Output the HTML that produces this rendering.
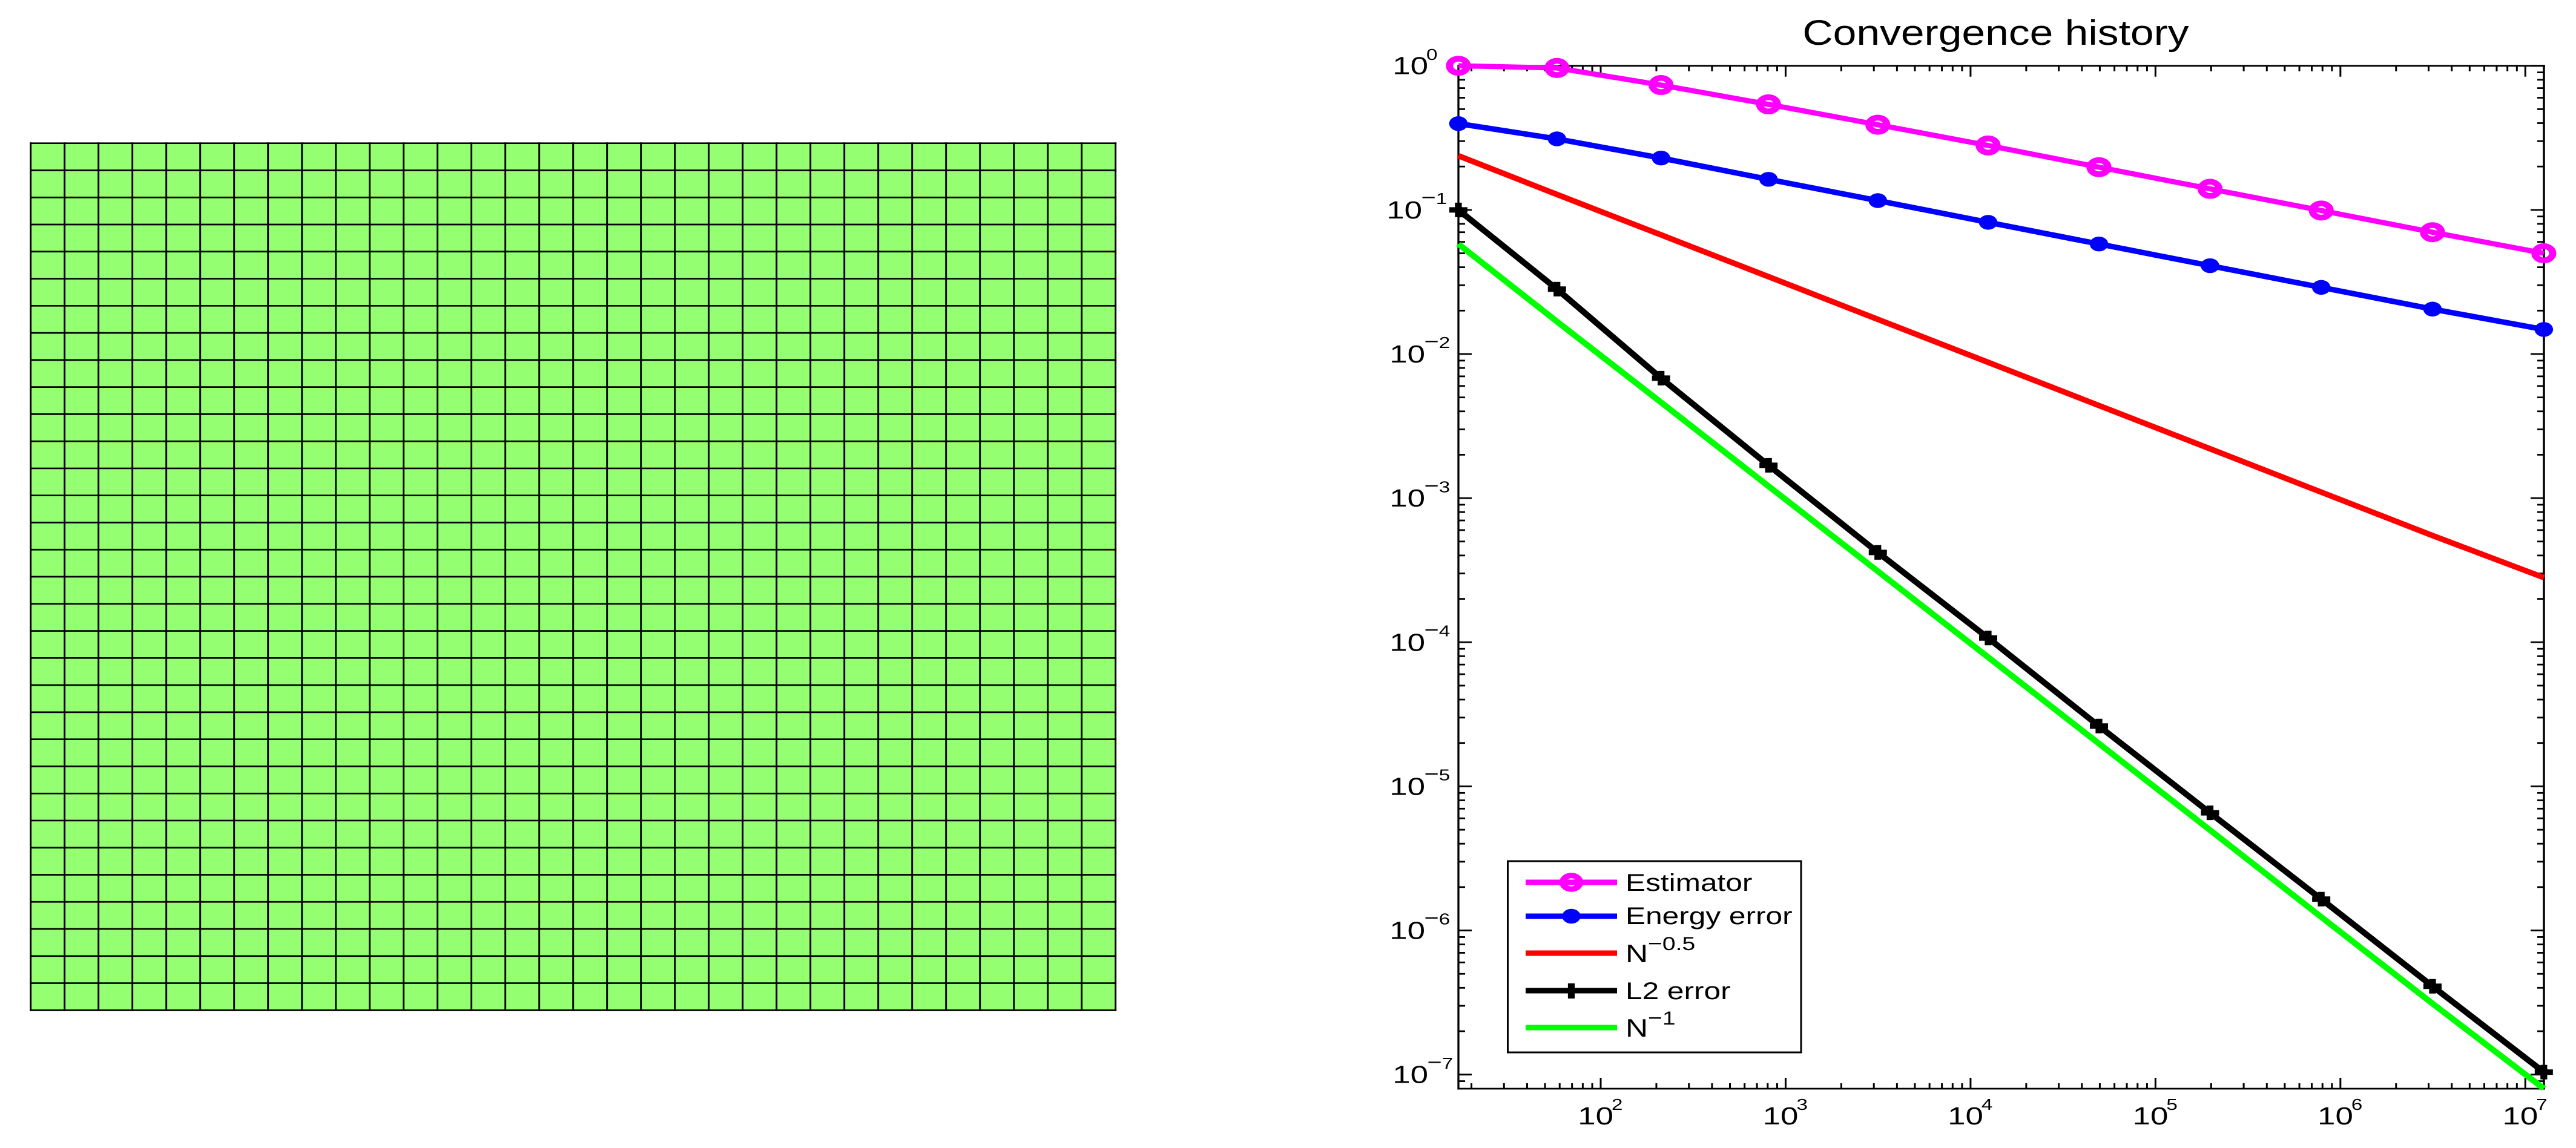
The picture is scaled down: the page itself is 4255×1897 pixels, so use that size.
<!DOCTYPE html>
<html lang="en">
<head>
<meta charset="utf-8">
<title>Mesh and convergence history</title>
<style>
html,body{margin:0;padding:0;background:#fff;width:4255px;height:1897px;overflow:hidden}
svg{display:block;position:absolute;left:0;top:0}
text{font-family:"Liberation Sans",sans-serif;fill:#000}
</style>
</head>
<body>
<svg id="fig" xmlns="http://www.w3.org/2000/svg" width="4255" height="1897" viewBox="0 0 4255 1897">
  <rect x="0" y="0" width="4255" height="1897" fill="#fff"/>
  <g id="mesh"></g>
  <g id="axes"></g>
  <g id="series" transform="scale(1.25,1)"></g>
  <text transform="translate(3296.5,74) scale(1.2,1)" font-size="58" text-anchor="middle">Convergence history</text>
  <g id="legend">
    <rect x="2490.5" y="1423" width="484.5" height="316" fill="#fff" stroke="#000" stroke-width="3"/>
    <g transform="scale(1.25,1)">
      <line x1="2016" x2="2136.8" y1="1458" y2="1458" stroke="#ff00ff" stroke-width="9"/>
      <circle cx="2076.4" cy="1458" r="11.2" fill="none" stroke="#ff00ff" stroke-width="9"/>
      <line x1="2016" x2="2136.8" y1="1514" y2="1514" stroke="#0000ff" stroke-width="9"/>
      <circle cx="2076.4" cy="1514" r="12.2" fill="#0000ff"/>
      <line x1="2016" x2="2136.8" y1="1575" y2="1575" stroke="#ff0000" stroke-width="9"/>
      <line x1="2016" x2="2136.8" y1="1637" y2="1637" stroke="#000" stroke-width="9"/>
      <line x1="2076.4" x2="2076.4" y1="1625" y2="1650" stroke="#000" stroke-width="9"/>
      <line x1="2016" x2="2136.8" y1="1698" y2="1698" stroke="#00ff00" stroke-width="9"/>
    </g>
    <text transform="translate(2685,1472) scale(1.24,1)" font-size="40">Estimator</text>
    <text transform="translate(2685,1527) scale(1.24,1)" font-size="40">Energy error</text>
    <text transform="translate(2685,1590) scale(1.24,1)" font-size="41.5">N</text>
    <text transform="translate(2722,1570) scale(1.24,1)" font-size="31.5"><tspan font-size="33">−</tspan>0.5</text>
    <text transform="translate(2685,1651) scale(1.24,1)" font-size="40">L2 error</text>
    <text transform="translate(2685,1713) scale(1.24,1)" font-size="41.5">N</text>
    <text transform="translate(2722,1693) scale(1.24,1)" font-size="31.5"><tspan font-size="33">−</tspan>1</text>
  </g>
</svg>
<script>
// ---- chart data ----
var dofs = [17, 58, 212, 808, 3152, 12448, 49472, 197248, 787712, 3148288, 12588032];
var estimatorValues = [1.0, 0.966, 0.735, 0.54, 0.39, 0.28, 0.198, 0.14, 0.099, 0.07, 0.05];
var energyValues = [0.397, 0.311, 0.229, 0.163, 0.116, 0.082, 0.058, 0.041, 0.029, 0.0205, 0.0148];
var nHalfValues = [0.2376, 0.128, 0.0671, 0.0344, 0.0174, 0.00876, 0.00439, 0.0022, 0.0011, 0.00055, 0.000281];
var l2Values = [0.1, 0.0282, 0.0068, 0.00169, 0.00042, 0.000107, 0.0000262, 0.00000655, 0.00000165, 0.00000041, 0.000000104];
var nOneValues = [0.058, 0.0168, 0.00462, 0.00121, 0.000311, 0.0000787, 0.0000198, 0.00000497, 0.00000124, 0.000000311, 0.00000008];
var xTickExponents = [2, 3, 4, 5, 6, 7];
var yTickExponents = [0, -1, -2, -3, -4, -5, -6, -7];
var meshColumns = 32;
var meshRows = 32;

var NS = 'http://www.w3.org/2000/svg';
var STRETCH = 1.25;
var AX = {left: 2409, right: 4202, top: 108.7, bottom: 1799};

function xPixel(v) { return 2644 + (Math.log10(v) - 2) * 305.46; }
function yPixel(v) { return 108.7 - Math.log10(v) * 238.14; }
function make(tag, attrs, parent) {
  var el = document.createElementNS(NS, tag);
  for (var k in attrs) { el.setAttribute(k, attrs[k]); }
  parent.appendChild(el);
  return el;
}

// ---- mesh ----
var meshGroup = document.getElementById('mesh');
var MX0 = 50.7, MY0 = 236.7, CW = 56, CH = 44.77;
var meshFill = make('rect', {x: MX0, y: MY0, width: meshColumns * CW, height: meshRows * CH, fill: '#94ff70'}, meshGroup);


for (var c = 0; c <= meshColumns; c++) {
  var vLine = make('line', {x1: MX0 + c * CW, x2: MX0 + c * CW, y1: MY0 - 1.4, y2: MY0 + meshRows * CH + 1.4, stroke: '#000', 'stroke-width': 2.9}, meshGroup);
  
  
}
for (var r = 0; r <= meshRows; r++) {
  var hLine = make('line', {x1: MX0 - 1.4, x2: MX0 + meshColumns * CW + 1.4, y1: MY0 + r * CH, y2: MY0 + r * CH, stroke: '#000', 'stroke-width': 2.7}, meshGroup);
  
  
}

// ---- axes ----
var axesGroup = document.getElementById('axes');
var frameTop = make('line', {x1: AX.left - 1.6, x2: AX.right + 1.8, y1: AX.top, y2: AX.top, stroke: '#000', 'stroke-width': 2.8}, axesGroup);


var frameBottom = make('line', {x1: AX.left - 1.6, x2: AX.right + 1.8, y1: AX.bottom, y2: AX.bottom, stroke: '#000', 'stroke-width': 2.8}, axesGroup);


var frameLeft = make('line', {x1: AX.left, x2: AX.left, y1: AX.top - 1.4, y2: AX.bottom + 1.4, stroke: '#000', 'stroke-width': 3.3}, axesGroup);


var frameRight = make('line', {x1: AX.right, x2: AX.right, y1: AX.top - 1.4, y2: AX.bottom + 1.4, stroke: '#000', 'stroke-width': 3.5}, axesGroup);



function xTick(px, len) {
  var t1 = make('line', {x1: px, x2: px, y1: AX.bottom, y2: AX.bottom - len, stroke: '#000', 'stroke-width': 3}, axesGroup);
  
  
  var t2 = make('line', {x1: px, x2: px, y1: AX.top, y2: AX.top + len, stroke: '#000', 'stroke-width': 3}, axesGroup);
  
  
}
function yTick(py, len) {
  var t1 = make('line', {x1: AX.left, x2: AX.left + len, y1: py, y2: py, stroke: '#000', 'stroke-width': 2.8}, axesGroup);
  
  
  var t2 = make('line', {x1: AX.right, x2: AX.right - len, y1: py, y2: py, stroke: '#000', 'stroke-width': 2.8}, axesGroup);
  
  
}
// x ticks: decades from 10^1 through 10^7
for (var dx = 1; dx <= 7; dx++) {
  if (dx >= 2) { xTick(xPixel(Math.pow(10, dx)), 18); }
  for (var mx = 2; mx <= 9; mx++) {
    var vx = mx * Math.pow(10, dx);
    var px = xPixel(vx);
    if (px > AX.left + 2 && px < AX.right - 2) { xTick(px, 9); }
  }
}
// y ticks: decades from 10^0 down through 10^-8
for (var dy = 0; dy >= -8; dy--) {
  var vDec = Math.pow(10, dy);
  if (yPixel(vDec) <= AX.bottom) { yTick(yPixel(vDec), 22); }
  for (var my = 2; my <= 9; my++) {
    var py = yPixel(my * Math.pow(10, dy - 1));
    if (py > AX.top + 2 && py < AX.bottom - 2) { yTick(py, 11); }
  }
}

// tick labels
function tickLabel(exp, inkLeft, baseY, superY) {
  var base = make('text', {transform: 'translate(' + (inkLeft - 5.8) + ',' + baseY + ') scale(1.29,1)', 'font-size': 41}, axesGroup);
  base.textContent = '10';
  
  
  var sup = make('text', {transform: 'translate(' + (inkLeft + (exp < 0 ? 51.5 : 50)) + ',' + superY + ') scale(1.3,1)', 'font-size': 25.5}, axesGroup);
  if (exp < 0) {
    var minus = make('tspan', {'font-size': 32}, sup);
    minus.textContent = '\u2212';
    var digit = make('tspan', {}, sup);
    digit.textContent = String(-exp);
  } else {
    sup.textContent = String(exp);
  }
  
  
}
xTickExponents.forEach(function (e) {
  var tx = xPixel(Math.pow(10, e));
  tickLabel(e, tx - 32, 1858, 1834);
});
yTickExponents.forEach(function (e) {
  var ty = yPixel(Math.pow(10, e));
  var inkLeft = 2301;
  if (e === 0 || e === -7) { inkLeft = 2306; }
  if (e === -1) { inkLeft = 2296; }
  tickLabel(e, inkLeft, ty + 14, ty - 9.8);
});

// ---- series (drawn in a horizontally stretched group so strokes match) ----
var seriesGroup = document.getElementById('series');
function pathPoints(values) {
  return values.map(function (v, i) {
    return (xPixel(dofs[i]) / STRETCH) + ',' + yPixel(v);
  }).join(' ');
}

var estimatorLine = make('polyline', {points: pathPoints(estimatorValues), fill: 'none', stroke: '#ff00ff', 'stroke-width': 8.5}, seriesGroup);


estimatorValues.forEach(function (v, i) {
  var m = make('circle', {cx: xPixel(dofs[i]) / STRETCH, cy: yPixel(v), r: 11.75, fill: 'none', stroke: '#ff00ff', 'stroke-width': 9.5}, seriesGroup);
  
  
});

var energyLine = make('polyline', {points: pathPoints(energyValues), fill: 'none', stroke: '#0000ff', 'stroke-width': 9}, seriesGroup);


energyValues.forEach(function (v, i) {
  var m = make('circle', {cx: xPixel(dofs[i]) / STRETCH, cy: yPixel(v), r: 12.2, fill: '#0000ff'}, seriesGroup);
  
  
});

var nHalfLine = make('polyline', {points: pathPoints(nHalfValues), fill: 'none', stroke: '#ff0000', 'stroke-width': 9}, seriesGroup);



var l2Line = make('polyline', {points: pathPoints(l2Values), fill: 'none', stroke: '#000', 'stroke-width': 9}, seriesGroup);


l2Values.forEach(function (v, i) {
  var cx = xPixel(dofs[i]) / STRETCH;
  var cy = yPixel(v);
  var m = make('path', {d: 'M' + (cx - 12) + ' ' + cy + 'H' + (cx + 12) + 'M' + cx + ' ' + (cy - 12) + 'V' + (cy + 12), fill: 'none', stroke: '#000', 'stroke-width': 9}, seriesGroup);
  
  
});

var nOneLine = make('polyline', {points: pathPoints(nOneValues), fill: 'none', stroke: '#00ff00', 'stroke-width': 9}, seriesGroup);


</script>
</body>
</html>
